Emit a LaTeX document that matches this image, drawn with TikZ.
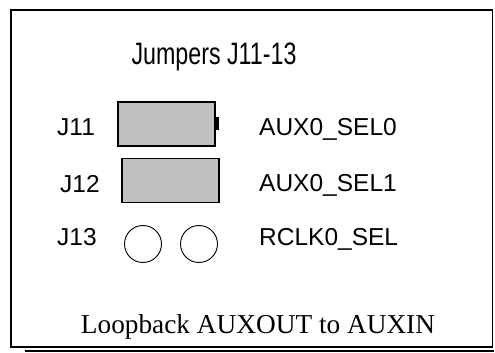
\documentclass[tikz,border=0pt]{standalone}
\usepackage{fontspec}
\setmainfont{Liberation Serif}
\setsansfont{Liberation Sans}
\usetikzlibrary{positioning}
\definecolor{jumpergray}{HTML}{C0C0C0}
\tikzset{
  jumper/.style={draw=black, line width=1.2pt, fill=jumpergray, minimum width=97pt, minimum height=44pt, inner sep=0pt},
  pin/.style={draw=black, line width=0.9pt, circle, minimum size=37pt, inner sep=0pt},
  jlabel/.style={font=\sffamily\fontsize{24.5}{26}\selectfont, anchor=base west, inner sep=0pt},
}
\begin{document}
\begin{tikzpicture}[x=1pt, y=1pt]
        \useasboundingbox (0,0) rectangle (495,353);
        % Frame with shadow
        \draw[line width=1.5pt] (11,343) rectangle (492.5,6);
        \draw[line width=2pt] (25,2) -- (494,2);
        % Title
        \node[font=\sffamily\fontsize{31}{33}\selectfont, xscale=0.75, anchor=base] (title) at (214,288) {Jumpers J11-13};
        % Jumper rows
        \node[jlabel] (j11) at (57,217) {J11};
        \node[jlabel] (j12) at (60,160) {J12};
        \node[jlabel] (j13) at (57,107) {J13};
        \node[jumper] (cap1) at (166.5,229) {};
        \fill (215,223) rectangle (218.5,236);
        \node[jumper] (cap2) at (170.5,172.5) {};
        \node[pin] (pinA) at (143,109) {};
        \node[pin] (pinB) at (199,109) {};
        \node[jlabel] (sel0) at (259,217) {AUX0\_SEL0};
        \node[jlabel] (sel1) at (259,161) {AUX0\_SEL1};
        \node[jlabel] (rclk) at (259,107) {RCLK0\_SEL};
        % Caption
        \node[font=\fontsize{27.3}{29}\selectfont, anchor=base] (caption) at (258,19) {Loopback AUXOUT to AUXIN};
    \end{tikzpicture}
\end{document}
